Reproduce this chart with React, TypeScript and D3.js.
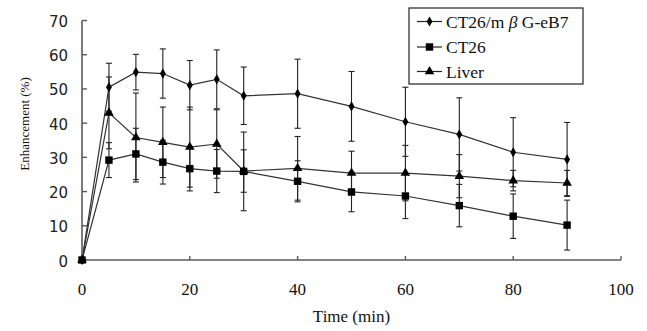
import React, { useEffect, useRef } from "react";
import * as d3 from "d3";

// Zeitpunkte (min)
const times = [0, 5, 10, 15, 20, 25, 30, 40, 50, 60, 70, 80, 90];

// Enhancement (%) je Gruppe, mit Fehlerbalken (SD)
const eb7Values = [0, 50.5, 54.9, 54.5, 51.1, 52.8, 48.0, 48.6, 44.9, 40.4, 36.7, 31.5, 29.4];
const eb7Errors = [0, 7.0, 5.2, 7.2, 7.2, 8.6, 8.4, 10.1, 10.2, 10.1, 10.7, 10.1, 10.8];
const ct26Values = [0, 29.2, 31.0, 28.6, 26.7, 26.0, 25.9, 23.0, 19.9, 18.7, 15.9, 12.8, 10.2];
const ct26Errors = [0, 5.1, 7.5, 6.4, 6.5, 6.3, 11.5, 6.0, 5.8, 6.6, 6.2, 6.5, 7.3];
const liverValues = [0, 43.0, 35.8, 34.4, 33.0, 33.9, 26.0, 26.8, 25.4, 25.4, 24.5, 23.2, 22.5];
const liverErrors = [0, 10.5, 13.0, 10.3, 11.7, 10.0, 6.2, 9.3, 6.4, 8.1, 6.3, 3.0, 3.7];

const xTicks = [0, 20, 40, 60, 80, 100];
const yTicks = [0, 10, 20, 30, 40, 50, 60, 70];

const series = [
  { name: "eb7", values: eb7Values, errors: eb7Errors, symbol: d3.symbolDiamond, size: 30 },
  { name: "ct26", values: ct26Values, errors: ct26Errors, symbol: d3.symbolSquare, size: 55 },
  { name: "liver", values: liverValues, errors: liverErrors, symbol: d3.symbolTriangle, size: 40 },
];

const App = () => {
  const ref = useRef<SVGSVGElement>(null);

  useEffect(() => {
    document.body.style.margin = "0";
    const svg = d3.select(ref.current);
    svg.selectAll("*").remove();

    const width = 647;
    const height = 331;
    const margin = { top: 20.5, right: 26, bottom: 71, left: 82 };

    const x = d3.scaleLinear().domain([0, 100]).range([margin.left, width - margin.right]);
    const y = d3.scaleLinear().domain([0, 70]).range([height - margin.bottom, margin.top]);

    const serif = "'Liberation Serif', 'Times New Roman', serif";
    const axisColor = "#5a5a5a";

    // Fehlerbalken zuerst
    series.forEach((s) => {
      const g = svg.append("g");
      times.forEach((t, i) => {
        if (s.errors[i] === 0) return;
        const cx = x(t);
        const y1 = y(s.values[i] + s.errors[i]);
        const y2 = y(s.values[i] - s.errors[i]);
        g.append("line").attr("x1", cx).attr("x2", cx).attr("y1", y1).attr("y2", y2)
          .attr("stroke", "#222").attr("stroke-width", 1.1);
        [y1, y2].forEach((yy) => {
          g.append("line").attr("x1", cx - 3).attr("x2", cx + 3).attr("y1", yy).attr("y2", yy)
            .attr("stroke", "#222").attr("stroke-width", 1.1);
        });
      });
    });

    // Linien
    const line = d3.line<number>().x((d, i) => x(times[i])).y((d) => y(d));
    series.forEach((s) => {
      svg.append("path").datum(s.values).attr("d", line)
        .attr("fill", "none").attr("stroke", "#333").attr("stroke-width", 1.2);
    });

    // Achsen
    const xAxis = svg.append("g").attr("transform", `translate(0,${y(0)})`);
    xAxis.append("line").attr("x1", x(0)).attr("x2", x(100)).attr("y1", 0).attr("y2", 0)
      .attr("stroke", axisColor).attr("stroke-width", 1.6);
    xTicks.forEach((t) => {
      xAxis.append("line").attr("x1", x(t)).attr("x2", x(t)).attr("y1", 0).attr("y2", -4)
        .attr("stroke", axisColor).attr("stroke-width", 1.4);
      xAxis.append("text").attr("x", x(t)).attr("y", 35).attr("text-anchor", "middle")
        .attr("font-family", serif).attr("font-size", 17).attr("fill", "#111").text(t);
    });

    const yAxis = svg.append("g").attr("transform", `translate(${x(0)},0)`);
    yAxis.append("line").attr("x1", 0).attr("x2", 0).attr("y1", y(0)).attr("y2", y(70))
      .attr("stroke", axisColor).attr("stroke-width", 1.6);
    yTicks.forEach((t) => {
      yAxis.append("line").attr("x1", 0).attr("x2", 5).attr("y1", y(t)).attr("y2", y(t))
        .attr("stroke", axisColor).attr("stroke-width", 1.4);
      yAxis.append("text").attr("x", -14).attr("y", y(t) + 1.5).attr("text-anchor", "end")
        .attr("dominant-baseline", "central")
        .attr("font-family", "'DejaVu Sans', Verdana, sans-serif").attr("font-size", 15)
        .attr("fill", "#222").text(t);
    });

    // Marker
    series.forEach((s) => {
      svg.append("g").selectAll("path").data(s.values).enter().append("path")
        .attr("transform", (d, i) => `translate(${x(times[i])},${y(d)})`)
        .attr("d", d3.symbol().type(s.symbol).size(s.size)())
        .attr("fill", "#000");
    });

    // Achsentitel
    svg.append("text").attr("x", (x(0) + x(100)) / 2).attr("y", 322).attr("text-anchor", "middle")
      .attr("font-family", serif).attr("font-size", 17).attr("fill", "#111").text("Time (min)");
    svg.append("text").attr("transform", `translate(29,124) rotate(-90)`).attr("text-anchor", "middle")
      .attr("font-family", serif).attr("font-size", 13).attr("fill", "#111").text("Enhancement (%)");

    // Legende
    const legend = svg.append("g");
    legend.append("rect").attr("x", 409).attr("y", 8).attr("width", 174).attr("height", 76)
      .attr("fill", "#fff").attr("stroke", "#222").attr("stroke-width", 1.2);
    const rows = [
      { label: "CT26/m", beta: true, rest: " G-eB7", s: series[0], y: 21.5 },
      { label: "CT26", beta: false, rest: "", s: series[1], y: 47 },
      { label: "Liver", beta: false, rest: "", s: series[2], y: 71.5 },
    ];
    rows.forEach((r) => {
      legend.append("line").attr("x1", 417).attr("x2", 442).attr("y1", r.y).attr("y2", r.y)
        .attr("stroke", "#222").attr("stroke-width", 1.2);
      legend.append("path").attr("transform", `translate(429.5,${r.y})`)
        .attr("d", d3.symbol().type(r.s.symbol).size(r.s.size)()).attr("fill", "#000");
      const txt = legend.append("text").attr("x", 446).attr("y", r.y + 6)
        .attr("font-family", serif).attr("font-size", 17.5).attr("fill", "#111");
      txt.append("tspan").text(r.label);
      if (r.beta) {
        txt.append("tspan").attr("font-style", "italic").text(" \u03b2");
        txt.append("tspan").text(r.rest);
      }
    });
  }, []);

  return <svg ref={ref} width={647} height={331} style={{ display: "block", background: "#fff" }}></svg>;
};

export default App;
